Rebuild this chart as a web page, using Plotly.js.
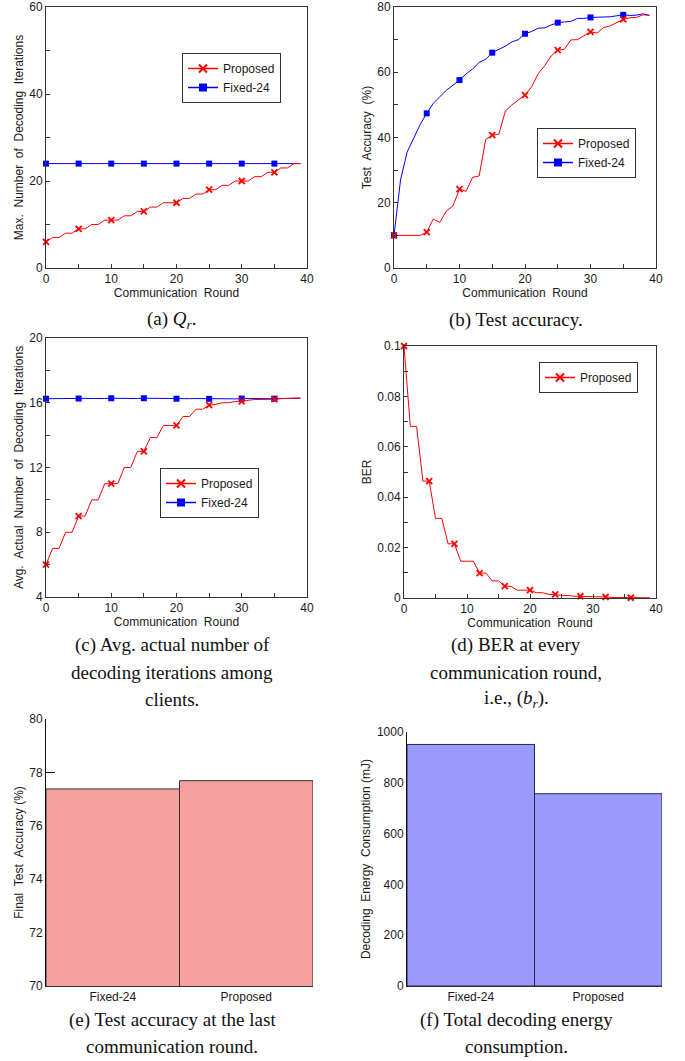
<!DOCTYPE html>
<html><head><meta charset="utf-8">
<script src="https://cdn.plot.ly/plotly-3.0.1.min.js"></script>
<style>html,body{margin:0;padding:0;background:#fff;} #chart{width:685px;height:1061px;}</style>
</head><body><div id="chart"></div>
<script>
// ---------- data ----------
const rounds = [0,1,2,3,4,5,6,7,8,9,10,11,12,13,14,15,16,17,18,19,20,21,22,23,24,25,26,27,28,29,30,31,32,33,34,35,36,37,38,39];
const qProposed = [6,7,7,8,8,9,9,10,10,11,11,11,12,12,13,13,14,14,15,15,15,16,16,17,17,18,18,19,19,20,20,20,21,21,22,22,23,23,24,24];
const qFixed = [24,24,24,24,24,24,24,24,24,24,24,24,24,24,24,24,24,24,24,24,24,24,24,24,24,24,24,24,24,24,24,24,24,24,24,24,24,24,24,24];
const accProposed = [10,10,10,10,10,11,15,14,17.5,19,24.2,23.5,27.8,28.2,39.4,40.7,41,48.1,50,51.5,53,55.5,59.5,62,65,66.8,67,69.9,70,71.2,72.4,72,73.7,74.2,75.3,76.2,76.7,76.8,77.6,77.5];
const accFixed = [10,27,35.5,40,44,47.4,50.5,52.5,54.5,56,57.6,59.5,61,63,64,66,67,68,69.3,70,71.8,72.5,73.5,73.6,74.5,75.2,75.4,75.6,76.5,76.5,76.8,76.8,76.9,77,77.3,77.6,77.4,77.5,77.9,77.4];
const iterProposed = [6,7,7,8,8,9,9,10,10,11,11,11,12,12,13,13,13.85,13.85,14.6,14.6,14.6,15.15,15.15,15.6,15.6,15.85,15.9,16,16,16.08,16.09,16.15,16.2,16.2,16.2,16.22,16.25,16.27,16.3,16.3];
const iterFixed = [16.25,16.26,16.27,16.26,16.25,16.26,16.27,16.26,16.25,16.26,16.28,16.27,16.26,16.25,16.26,16.28,16.27,16.26,16.25,16.26,16.25,16.26,16.25,16.26,16.25,16.24,16.25,16.26,16.25,16.24,16.26,16.25,16.24,16.25,16.26,16.25,16.26,16.27,16.28,16.28];
const berProposed = [0.1,0.0681,0.0681,0.0464,0.0464,0.0316,0.0316,0.0215,0.0215,0.0146,0.0146,0.0146,0.0099,0.0099,0.0068,0.0068,0.0047,0.0046,0.0031,0.0031,0.0031,0.0021,0.0021,0.0014,0.0014,0.001,0.001,0.0007,0.0007,0.0005,0.0005,0.0004,0.0004,0.0002,0.0002,0.0001,0.0001,0.0001,0.0001,0.0001];
const barCategories = ['Fixed-24','Proposed'];
const finalAccuracy = [77.38, 77.69];
const energyConsumption = [951, 757];
const seriesNames = ['Proposed','Fixed-24'];

// ---------- styling ----------
const RED = '#ff0000', BLUE = '#0000ff';
const SANS = 'Liberation Sans, Arial, sans-serif';
const SERIF = 'Liberation Serif, Times New Roman, serif';
const W = 685, H = 1061;
const px = v => v / W, py = v => 1 - v / H;

function pick(xs, ys, step){ const ox=[], oy=[]; xs.forEach((x,i)=>{ if(x%step===0){ox.push(x);oy.push(ys[i]);} }); return [ox,oy]; }

const traces = [];
function addLine(xa, ya, xs, ys, color){
  traces.push({x:xs, y:ys, xaxis:xa, yaxis:ya, mode:'lines', line:{color:color, width:1}, showlegend:false, hoverinfo:'skip'});
}
function addMarkers(xa, ya, xs, ys, color, symbol, step){
  const [mx,my] = pick(xs, ys, step);
  const mk = symbol==='square' ? {symbol:'square', size:6, color:color} : {symbol:'x-thin', size:6, color:color, line:{color:color, width:1.8}};
  traces.push({x:mx, y:my, xaxis:xa, yaxis:ya, mode:'markers', marker:mk, showlegend:false, cliponaxis:false});
}
function addLegend(xa, ya, color, symbol, name, legendId){
  const lk = symbol==='square' ? {symbol:'square', size:8, color:color} : {symbol:'x-thin', size:8, color:color, line:{color:color, width:2}};
  traces.push({x:[null], y:[null], xaxis:xa, yaxis:ya, mode:'lines+markers', name:name, line:{color:color, width:1.5}, marker:lk, legend:legendId, showlegend:true});
}
function panel(xa, ya, pY, fY, legendId){
  addLine(xa, ya, rounds, fY, BLUE);
  addLine(xa, ya, rounds, pY, RED);
  addMarkers(xa, ya, rounds, fY, BLUE, 'square', 5);
  addMarkers(xa, ya, rounds, pY, RED, 'x', 5);
  addLegend(xa, ya, RED, 'x', seriesNames[0], legendId);
  addLegend(xa, ya, BLUE, 'square', seriesNames[1], legendId);
}
panel('x','y', qProposed, qFixed, 'legend');
panel('x2','y2', accProposed, accFixed, 'legend2');
panel('x3','y3', iterProposed, iterFixed, 'legend3');
addLine('x4','y4', rounds, berProposed, RED);
addMarkers('x4','y4', rounds, berProposed, RED, 'x', 4);
addLegend('x4','y4', RED, 'x', seriesNames[0], 'legend4');

// (e), (f) bars
traces.push({type:'bar', x:barCategories, y:finalAccuracy, xaxis:'x5', yaxis:'y5', width:1, showlegend:false,
  marker:{color:'#f4a0a0', line:{color:'#333333', width:1}, pattern:{shape:'.', fgcolor:'#f06868', bgcolor:'#ffcaca', size:2, solidity:0.5, fillmode:'replace'}}});
traces.push({type:'bar', x:barCategories, y:energyConsumption, xaxis:'x6', yaxis:'y6', width:1, showlegend:false,
  marker:{color:'#9090f5', line:{color:'#222255', width:1}, pattern:{shape:'.', fgcolor:'#6464f8', bgcolor:'#c4c4ff', size:2, solidity:0.5, fillmode:'replace'}}});

const tickfont = {family:SANS, size:12, color:'#1a1a1a'};
const titlefont = {family:SANS, size:12, color:'#1a1a1a'};
function lineX(domain, anchor){
  return {domain:domain, anchor:anchor, range:[0,40], dtick:10, tick0:0, ticks:'inside', ticklen:4, tickcolor:'#333',
    minor:{dtick:5, ticks:'inside', ticklen:4, tickcolor:'#333'},
    showline:true, mirror:true, linecolor:'#333', linewidth:1, showgrid:false, zeroline:false,
    tickfont:tickfont, fixedrange:true,
    title:{text:'Communication\u00a0\u00a0Round', font:titlefont, standoff:1}};
}
function lineY(domain, anchor, range, dtick, minor, title){
  return {domain:domain, anchor:anchor, range:range, dtick:dtick, tick0:range[0], ticks:'inside', ticklen:4, tickcolor:'#333',
    minor:{dtick:minor, ticks:'inside', ticklen:4, tickcolor:'#333'},
    showline:true, mirror:true, linecolor:'#333', linewidth:1, showgrid:false, zeroline:false,
    tickfont:tickfont, fixedrange:true,
    title:{text:title, font:titlefont, standoff:3}};
}
function barX(domain, anchor){
  return {domain:domain, anchor:anchor, type:'category', range:[-0.5,1.5], showline:true, linecolor:'#333', linewidth:1,
    ticks:'', showgrid:false, zeroline:false, tickfont:{family:SANS, size:12, color:'#1a1a1a'}, fixedrange:true};
}
function barY(domain, anchor, range, dtick, title){
  return {domain:domain, anchor:anchor, range:range, dtick:dtick, tick0:range[0], ticks:'inside', ticklen:9, tickcolor:'#111',
    showline:true, linecolor:'#111', linewidth:1, showgrid:false, zeroline:false, layer:'below traces',
    tickfont:{family:SANS, size:12, color:'#1a1a1a'}, fixedrange:true,
    title:{text:title, font:{family:SANS, size:12, color:'#1a1a1a'}, standoff:3}};
}

const legendBase = {bgcolor:'#ffffff', bordercolor:'#333333', borderwidth:1, font:{family:SANS, size:12, color:'#1a1a1a'},
  xanchor:'left', yanchor:'top', traceorder:'normal', tracegroupgap:0, itemwidth:30};

const sp = '\u00a0\u00a0';
const layout = {
  width:W, height:H, margin:{l:0,r:0,t:0,b:0}, paper_bgcolor:'#fff', plot_bgcolor:'#fff',
  font:{family:SANS, color:'#1a1a1a'}, showlegend:true, bargap:0,
  xaxis: lineX([px(46),px(307)], 'y'),
  yaxis: lineY([py(268),py(7)], 'x', [0,60], 20, 10, 'Max.'+sp+'Number'+sp+'of'+sp+'Decoding'+sp+'Iterations'),
  xaxis2: lineX([px(394),px(656)], 'y2'),
  yaxis2: lineY([py(268),py(7)], 'x2', [0,80], 20, 10, 'Test'+sp+'Accuracy'+sp+'(%)'),
  xaxis3: lineX([px(46),px(307)], 'y3'),
  yaxis3: lineY([py(597),py(338)], 'x3', [4,20], 4, 2, 'Avg.'+sp+'Actual'+sp+'Number'+sp+'of'+sp+'Decoding'+sp+'Iterations'),
  xaxis4: lineX([px(404),px(656)], 'y4'),
  yaxis4: lineY([py(598),py(346)], 'x4', [0,0.1], 0.02, 0.01, 'BER'),
  xaxis5: barX([px(46),px(313)], 'y5'),
  yaxis5: barY([py(986),py(719)], 'x5', [70,80], 2, 'Final'+sp+'Test'+sp+'Accuracy (%)'),
  xaxis6: barX([px(407),px(662)], 'y6'),
  yaxis6: barY([py(986),py(732)], 'x6', [0,1000], 200, 'Decoding'+sp+'Energy'+sp+'Consumption (mJ)'),
  legend: Object.assign({}, legendBase, {x:px(182), y:py(53)}),
  legend2: Object.assign({}, legendBase, {x:px(537), y:py(128)}),
  legend3: Object.assign({}, legendBase, {x:px(160), y:py(468)}),
  legend4: Object.assign({}, legendBase, {x:px(539), y:py(362)}),
  annotations: []
};

const captions = [
  [172, 320, '(a) <i>Q</i><sub><i>r</i></sub>.'],
  [516, 320, '(b) Test accuracy.'],
  [172, 645, '(c) Avg. actual number of'],
  [172, 672, 'decoding iterations among'],
  [172, 699, 'clients.'],
  [516, 645, '(d) BER at every'],
  [516, 672, 'communication round,'],
  [516, 699, 'i.e., (<i>b</i><sub><i>r</i></sub>).'],
  [172, 1020, '(e) Test accuracy at the last'],
  [172, 1046, 'communication round.'],
  [516, 1020, '(f) Total decoding energy'],
  [516, 1046, 'consumption.']
];
captions.forEach(c => layout.annotations.push({xref:'paper', yref:'paper', x:px(c[0]), y:py(c[1]), xanchor:'center', yanchor:'middle',
  text:c[2], showarrow:false, font:{family:SERIF, size:19, color:'#111'}}));

Plotly.newPlot('chart', traces, layout, {staticPlot:true, displayModeBar:false});
</script>
</body></html>
